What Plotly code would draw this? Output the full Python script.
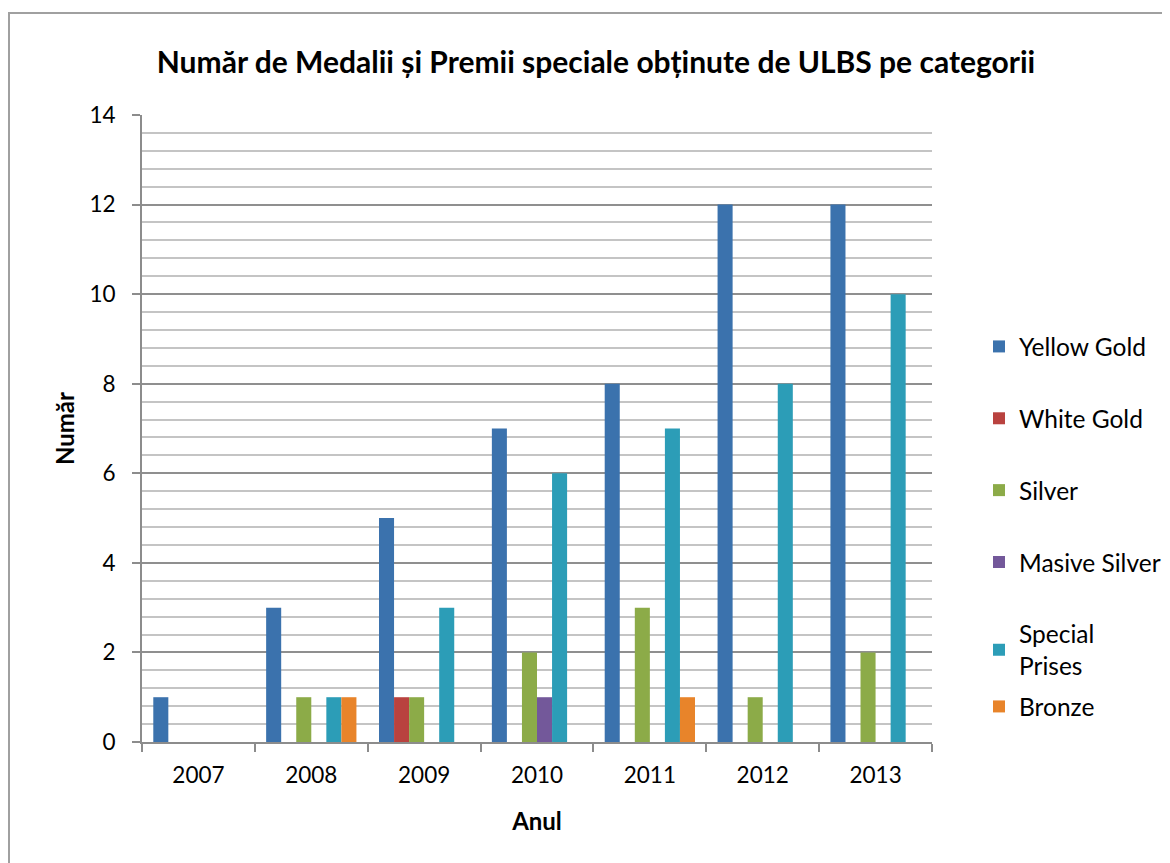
import plotly.graph_objects as go

years = ["2007", "2008", "2009", "2010", "2011", "2012", "2013"]
yellow_gold = [1, 3, 5, 7, 8, 12, 12]
white_gold = [0, 0, 1, 0, 0, 0, 0]
silver = [0, 1, 1, 2, 3, 1, 2]
masive_silver = [0, 0, 0, 1, 0, 0, 0]
special_prises = [0, 1, 3, 6, 7, 8, 10]
bronze = [0, 1, 0, 0, 1, 0, 0]

series_names = ["Yellow Gold", "White Gold", "Silver", "Masive Silver", "Special<br>Prises", "Bronze"]
series_values = [yellow_gold, white_gold, silver, masive_silver, special_prises, bronze]
colors = ["#3b72ad", "#b9423f", "#8cab48", "#73589a", "#2c9db7", "#e8842a"]
legends = ["legend", "legend", "legend", "legend", "legend", "legend2"]

FONT = "Lato"
W, H = 1162, 855   # page body has an 8px margin
OFF = 8

fig = go.Figure()
for i, (name, vals, col, lg) in enumerate(zip(series_names, series_values, colors, legends)):
    fig.add_trace(go.Bar(
        x=years, y=vals, name=name,
        marker=dict(color=col, line=dict(width=0)),
        legend=lg, legendgroup=f"g{i}",
    ))

pl, pr, pt, pb = 142 - OFF, 932 - OFF, 115 - OFF, 742 - OFF
pw, ph = pr - pl, pb - pt

fig.update_layout(
    width=W, height=H,
    margin=dict(l=pl, r=W - pr, t=pt, b=H - pb),
    paper_bgcolor="white", plot_bgcolor="white",
    barmode="group", bargap=0.2, bargroupgap=0,
    font=dict(family=FONT, size=22.5, color="black"),
    title=dict(
        text="<b>Număr de Medalii și Premii speciale obținute de ULBS pe categorii</b>",
        x=(596 - OFF) / W, xref="container", xanchor="center",
        y=1 - (62 - OFF) / H, yref="container", yanchor="middle",
        font=dict(family=FONT, size=30, color="black"),
    ),
    xaxis=dict(
        type="category",
        showgrid=False,
        showline=True, linecolor="#8c8c8c", linewidth=2,
        ticks="outside", tickson="boundaries", ticklen=8, tickcolor="#8c8c8c", tickwidth=2,
        tickfont=dict(size=22.5), ticklabelstandoff=12,
        title=dict(text="<b>Anul</b>", font=dict(size=24), standoff=26),
    ),
    yaxis=dict(
        range=[0, 14], dtick=2, tick0=0,
        showgrid=True, gridcolor="#8f8f8f", gridwidth=2,
        showline=True, linecolor="#8c8c8c", linewidth=2,
        ticks="outside", ticklen=8, tickcolor="#8c8c8c", tickwidth=2,
        tickfont=dict(size=22.5), ticklabelstandoff=12,
        zeroline=False,
        minor=dict(dtick=0.4, tick0=0, showgrid=True, gridcolor="#c4c4c4", gridwidth=2, ticks=""),
        title=dict(text="<b>Număr</b>", font=dict(size=24), standoff=8),
    ),
    legend=dict(
        x=(1019 - OFF - 40) / W, xref="container", xanchor="left",
        y=1 - (324 - OFF) / H, yref="container", yanchor="top",
        font=dict(size=24.5), tracegroupgap=37, itemclick=False,
        bgcolor="rgba(0,0,0,0)",
    ),
    legend2=dict(
        x=(1019 - OFF - 40) / W, xref="container", xanchor="left",
        y=1 - (684 - OFF) / H, yref="container", yanchor="top",
        font=dict(size=24.5), itemclick=False,
        bgcolor="rgba(0,0,0,0)",
    ),
    shapes=[dict(
        type="rect", xref="paper", yref="paper",
        x0=(9 - OFF - pl) / pw, x1=1.6, y0=-0.5, y1=1 + (pt - (13 - OFF)) / ph,
        line=dict(color="#a0a0a0", width=2), fillcolor="rgba(0,0,0,0)", layer="below",
    )],
)

fig.write_html("out.html")
